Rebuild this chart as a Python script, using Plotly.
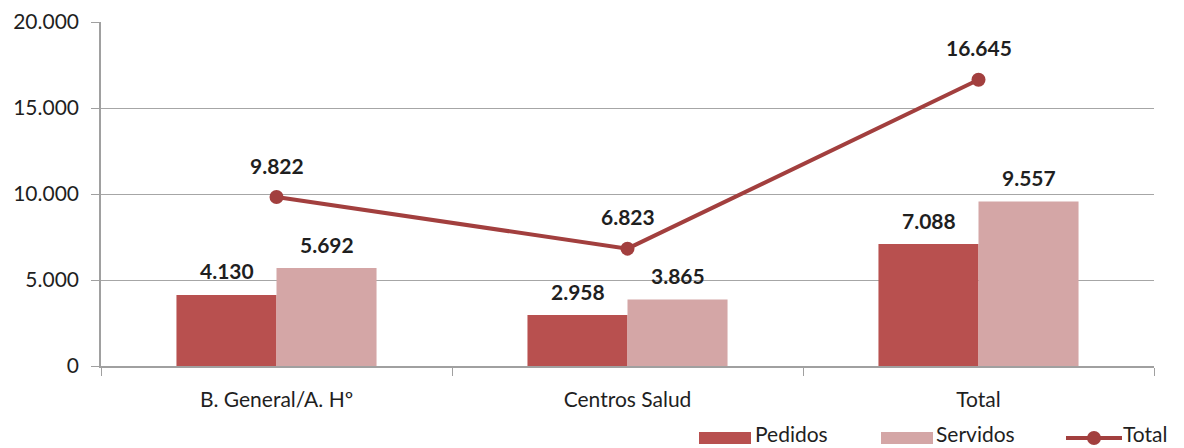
import plotly.graph_objects as go

categories = ["B. General/A. Hº", "Centros Salud", "Total"]
pedidos = [4130, 2958, 7088]
servidos = [5692, 3865, 9557]
total = [9822, 6823, 16645]
y_ticks = [0, 5000, 10000, 15000, 20000]
y_tick_labels = ["0", "5.000", "10.000", "15.000", "20.000"]

FONT = "Lato, Carlito, Calibri, sans-serif"
TXT = "#1f1f1f"
C_PED = "#B8504F"
C_SER = "#D4A6A6"
C_TOT = "#A23F3E"

W, H = 1184, 448
ML, MR, MT, MB = 101, 30, 22, 82


def es(v):
    return f"{v:,}".replace(",", ".")


def px(x):
    return (x - ML) / (W - ML - MR)


def py(y):
    return (H - MB - y) / (H - MT - MB)


fig = go.Figure()
fig.add_trace(go.Bar(name="Pedidos", x=categories, y=pedidos, marker_color=C_PED,
                     marker_line_width=0))
fig.add_trace(go.Bar(name="Servidos", x=categories, y=servidos, marker_color=C_SER,
                     marker_line_width=0))
fig.add_trace(go.Scatter(name="Total", x=categories, y=total, mode="lines+markers",
                         line=dict(color=C_TOT, width=4),
                         marker=dict(color=C_TOT, size=14)))

label_font = dict(family=FONT, size=21, color=TXT)
annotations = []
for c, p, s, t in zip(categories, pedidos, servidos, total):
    annotations.append(dict(x=c, y=p, text=f"<b>{es(p)}</b>", showarrow=False,
                            xshift=-50, yshift=24, yanchor="middle", font=label_font))
    annotations.append(dict(x=c, y=s, text=f"<b>{es(s)}</b>", showarrow=False,
                            xshift=50, yshift=24, yanchor="middle", font=label_font))
    annotations.append(dict(x=c, y=t, text=f"<b>{es(t)}</b>", showarrow=False,
                            xshift=0, yshift=32, yanchor="middle", font=label_font))

# legend drawn by hand: wide swatches for the bars, line with dot for the total
shapes = []
legend_y = 438
legend_font = dict(family=FONT, size=21, color=TXT)
for name, color, x0, x1, tx in [("Pedidos", C_PED, 699, 751, 754),
                                 ("Servidos", C_SER, 881, 933, 935)]:
    shapes.append(dict(type="rect", xref="paper", yref="paper",
                       x0=px(x0), x1=px(x1), y0=py(legend_y + 6), y1=py(legend_y - 6),
                       fillcolor=color, line_width=0))
    annotations.append(dict(xref="paper", yref="paper", x=px(tx), y=py(447),
                            text=name, showarrow=False, xanchor="left", yanchor="bottom",
                            borderpad=0, font=legend_font))
shapes.append(dict(type="line", xref="paper", yref="paper",
                   x0=px(1066), x1=px(1122), y0=py(legend_y), y1=py(legend_y),
                   line=dict(color=C_TOT, width=4)))
shapes.append(dict(type="circle", xref="paper", yref="paper",
                   x0=px(1087), x1=px(1101), y0=py(legend_y + 7), y1=py(legend_y - 7),
                   fillcolor=C_TOT, line_width=0))
annotations.append(dict(xref="paper", yref="paper", x=px(1122), y=py(447),
                        text="Total", showarrow=False, xanchor="left", yanchor="bottom",
                        borderpad=0, font=legend_font))

fig.update_layout(
    width=W, height=H,
    margin=dict(l=ML, r=MR, t=MT, b=MB, autoexpand=False),
    paper_bgcolor="white", plot_bgcolor="white",
    font=dict(family=FONT, size=21, color=TXT),
    barmode="group", bargap=0.43, bargroupgap=0,
    annotations=annotations, shapes=shapes,
    showlegend=False,
)
fig.update_xaxes(showline=True, linecolor="#A0A0A0", linewidth=1.5,
                 ticks="outside", tickson="boundaries", ticklen=8, tickcolor="#A0A0A0",
                 tickfont=dict(family=FONT, size=21, color=TXT),
                 ticklabelstandoff=14, showgrid=False, fixedrange=True)
fig.update_yaxes(range=[0, 20000], tickvals=y_ticks, ticktext=y_tick_labels,
                 showline=True, linecolor="#A0A0A0", linewidth=1.5,
                 ticks="outside", ticklen=8, tickcolor="#A0A0A0",
                 gridcolor="#A6A6A6", gridwidth=1.2, zeroline=False,
                 tickfont=dict(family=FONT, size=21, color=TXT),
                 ticklabelstandoff=8, fixedrange=True)

fig.write_html("out.html")
